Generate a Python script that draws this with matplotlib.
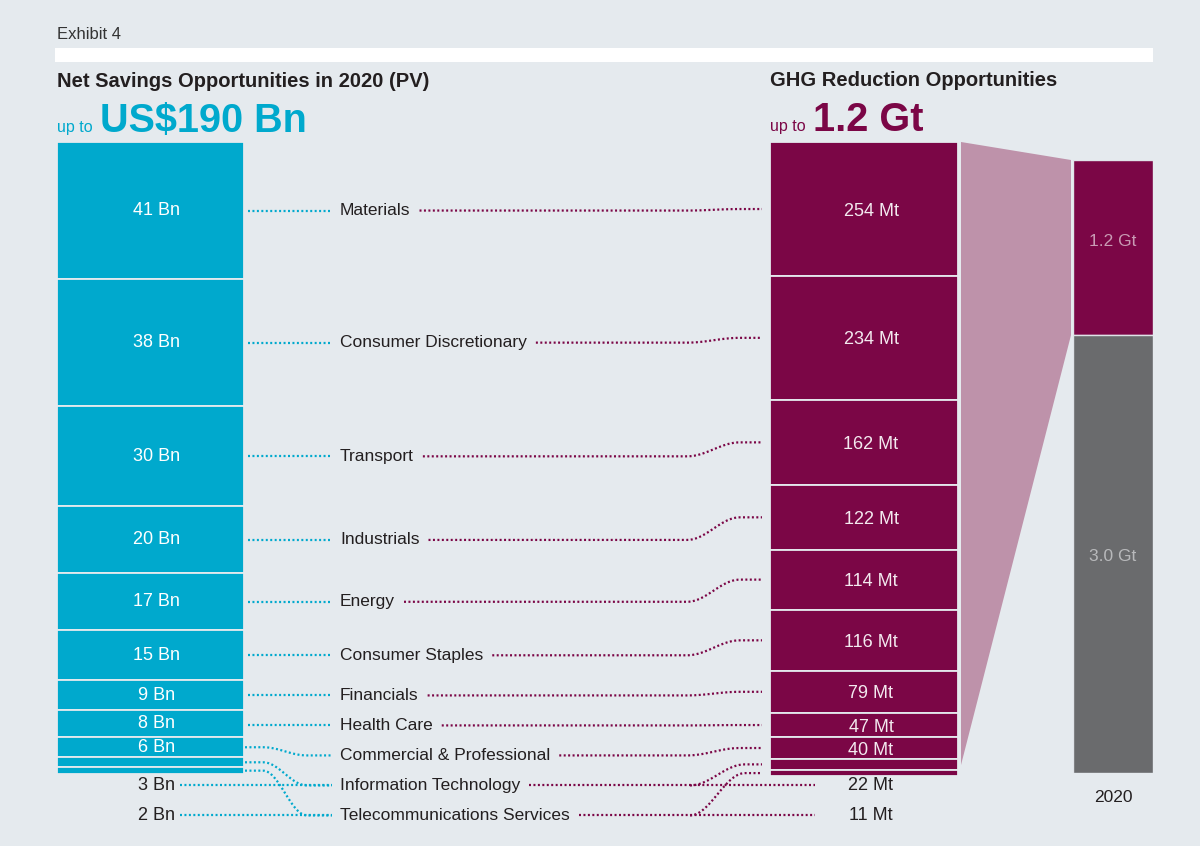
import numpy as np
import matplotlib
matplotlib.use("Agg")
import matplotlib.pyplot as plt
from matplotlib.patches import Polygon

# ---------------- data ----------------
categories = ["Materials", "Consumer Discretionary", "Transport", "Industrials",
              "Energy", "Consumer Staples", "Financials", "Health Care",
              "Commercial & Professional", "Information Technology",
              "Telecommunications Services"]
savings_bn = [41, 38, 30, 20, 17, 15, 9, 8, 6, 3, 2]
ghg_mt = [254, 234, 162, 122, 114, 116, 79, 47, 40, 22, 11]
total_labels = ["1.2 Gt", "3.0 Gt"]
total_gt = [1.2, 3.0]
year_label = "2020"

left_title = "Net Savings Opportunities in 2020 (PV)"
left_big = "US$190 Bn"
right_title = "GHG Reduction Opportunities"
right_big = "1.2 Gt"
exhibit = "Exhibit 4"

# ---------------- style ----------------
W, H = 1200, 846
BG = "#e5eaee"
CYAN = "#00a9cd"
MAROON = "#7b0646"
PINK = "#be92aa"
GREY = "#6a6b6d"
DARK = "#231f20"
FONT = "Liberation Sans"

plt.rcParams["font.family"] = [FONT, "DejaVu Sans"]

fig = plt.figure(figsize=(W / 100, H / 100), dpi=100, facecolor=BG)


def frac(x0, y0, x1, y1):
    return [x0 / W, 1 - y1 / H, (x1 - x0) / W, (y1 - y0) / H]


def to_px(ax, x, y):
    d = ax.transData.transform((x, y))
    return d[0], H - d[1]


def stack_axes(rect, values, color, edge):
    ax = fig.add_axes(frac(*rect))
    ax.set_xlim(0, 1)
    ax.set_ylim(sum(values), 0)
    ax.axis("off")
    bottoms = np.concatenate([[0], np.cumsum(values)[:-1]])
    ax.bar(0, values, bottom=bottoms, width=1, align="edge",
           color=color, edgecolor=edge, linewidth=1.3)
    centers = [to_px(ax, 0.5, b + v / 2)[1] for b, v in zip(bottoms, values)]
    heights = [to_px(ax, 0, b + v)[1] - to_px(ax, 0, b)[1] for b, v in zip(bottoms, values)]
    return ax, centers, heights


axL, cL, hL = stack_axes((57, 142, 244, 774), savings_bn, CYAN, BG)
axR, cR, hR = stack_axes((770, 142, 958, 776), ghg_mt, MAROON, BG)
axT = fig.add_axes(frac(1073, 160, 1153, 773))
axT.set_xlim(0, 1)
axT.set_ylim(sum(total_gt), 0)
axT.axis("off")
bT = np.concatenate([[0], np.cumsum(total_gt)[:-1]])
axT.bar(0, total_gt, bottom=bT, width=1, align="edge",
        color=[MAROON, GREY], edgecolor="#dfe3e8", linewidth=1.0)

# overlay axes in pixel coordinates (for text / decorations), on top
ov = fig.add_axes([0, 0, 1, 1])
ov.set_xlim(0, W)
ov.set_ylim(H, 0)
ov.axis("off")
ov.set_zorder(10)

# ---------------- header ----------------
ov.text(57, 39, exhibit, fontsize=12, color="#333333", va="baseline", ha="left")
ov.add_patch(plt.Rectangle((55, 48), 1098, 14, color="white", lw=0))
ov.text(57, 87, left_title, fontsize=14.5, fontweight="bold", color=DARK, va="baseline")
ov.text(57, 132, "up to", fontsize=11.5, color=CYAN, va="baseline")
ov.text(100, 132, left_big, fontsize=28.5, fontweight="bold", color=CYAN, va="baseline")
ov.text(770, 86, right_title, fontsize=14.5, fontweight="bold", color=DARK, va="baseline")
ov.text(770, 131, "up to", fontsize=11.5, color=MAROON, va="baseline")
ov.text(813, 131, right_big, fontsize=28.5, fontweight="bold", color=MAROON, va="baseline")

# ---------------- trapezoid ----------------
rx1, ry0 = to_px(axR, 1, 0)
tx0, ty0 = to_px(axT, 0, 0)
_, ty1 = to_px(axT, 0, total_gt[0])
ov.add_patch(Polygon([(rx1 + 3, ry0), (tx0 - 2, ty0), (tx0 - 2, ty1), (rx1 + 3, 765)],
                     closed=True, facecolor=PINK, edgecolor="none", zorder=1))

# ---------------- label positions ----------------
label_y = []
for i, c in enumerate(cL):
    y = c if i == 0 else max(c, label_y[-1] + 30)
    label_y.append(y)

xL_mid = to_px(axL, 0.5, 0)[0] + 6
xR_mid = to_px(axR, 0.5, 0)[0] + 7
xL_right = to_px(axL, 1, 0)[0]
xR_left = to_px(axR, 0, 0)[0]

dot = dict(linestyle=(0, (0.9, 1.1)), linewidth=1.6)


def s_curve(x_start, y0, xa, xb, y1, x_end):
    t = np.linspace(0, 1, 30)
    xs = np.concatenate([[x_start], xa + (xb - xa) * t, [x_end]])
    ys = np.concatenate([[y0], y0 + (y1 - y0) * (1 - np.cos(np.pi * t)) / 2, [y1]])
    return xs, ys


texts = []
for i, cat in enumerate(categories):
    ly = label_y[i]
    t = ov.text(340, ly, cat, fontsize=12.5, color=DARK, va="center", ha="left")
    texts.append(t)
    # savings value labels
    if hL[i] >= 15:
        ov.text(xL_mid, cL[i], f"{savings_bn[i]} Bn", fontsize=13, color="white",
                va="center", ha="center", zorder=5)
    else:
        ov.text(xL_mid, ly, f"{savings_bn[i]} Bn", fontsize=13, color=DARK,
                va="center", ha="center")
        ov.plot([180, 332], [ly, ly], color=CYAN, **dot)
    # cyan connector
    if abs(cL[i] - ly) < 3:
        ov.plot([xL_right + 4, 332], [ly, ly], color=CYAN, **dot)
    else:
        xs, ys = s_curve(xL_right + 1, cL[i], 263, 307, ly, 332)
        ov.plot(xs, ys, color=CYAN, **dot)
    # ghg value labels
    if hR[i] >= 15:
        ov.text(xR_mid, cR[i] + 2, f"{ghg_mt[i]} Mt", fontsize=13, color="#f3e9ef",
                va="center", ha="center", zorder=5)
    else:
        ov.text(xR_mid, ly, f"{ghg_mt[i]} Mt", fontsize=13, color=DARK,
                va="center", ha="center")

fig.canvas.draw()
rend = fig.canvas.get_renderer()
for i, t in enumerate(texts):
    ly = label_y[i]
    x_start = t.get_window_extent(rend).x1 + 9
    if hR[i] >= 15:
        xs, ys = s_curve(x_start, ly, 687, 740, cR[i], xR_left - 8)
        ov.plot(xs, ys, color=MAROON, **dot)
    else:
        ov.plot([x_start, 815], [ly, ly], color=MAROON, **dot)
        xs, ys = s_curve(690, ly, 690, 745, cR[i], xR_left - 8)
        ov.plot(xs, ys, color=MAROON, **dot)

# ---------------- 2020 bar labels ----------------
tx_mid = to_px(axT, 0.5, 0)[0]
ov.text(tx_mid, to_px(axT, 0.5, total_gt[0] / 2)[1] - 6, total_labels[0], fontsize=12.5,
        color="#c99bb4", ha="center", va="center", zorder=5)
ov.text(tx_mid, to_px(axT, 0.5, total_gt[0] + total_gt[1] / 2)[1] + 2, total_labels[1],
        fontsize=12.5, color="#b8b9bb", ha="center", va="center", zorder=5)
ov.text(tx_mid, 798, year_label, fontsize=12.5, color=DARK, ha="center", va="center")

fig.savefig("out.png", dpi=100, facecolor=BG)
